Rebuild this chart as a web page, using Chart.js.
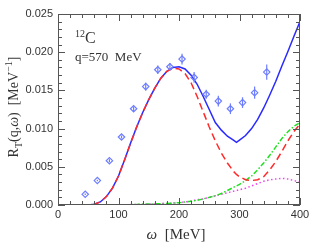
<!DOCTYPE html>
<html>
<head>
<meta charset="utf-8">
<script src="https://cdn.jsdelivr.net/npm/chart.js@4/dist/chart.umd.min.js"></script>
<style>
  html, body { margin: 0; padding: 0; background: #fff; }
  #wrap { width: 315px; height: 248px; }
</style>
</head>
<body>
<div id="wrap"><canvas id="rtChart" width="315" height="248"></canvas></div>
<script>
// Energy grid for the model curves (MeV)
const OMEGA = [40, 50, 60, 70, 80, 90, 100, 110, 120, 130, 140, 150, 160, 170, 180, 190, 200,
  210, 220, 230, 240, 250, 260, 270, 280, 290, 295, 300, 310, 320, 330, 340, 350, 360, 370, 380, 390, 400];

// Full result (blue solid)
const totalCurve = [0, 0, 0.0001, 0.0004, 0.0011, 0.0022, 0.0038, 0.0059, 0.0081, 0.0102, 0.0121, 0.0138,
  0.0153, 0.0166, 0.0175, 0.0180, 0.0181, 0.0178, 0.0170, 0.0158, 0.0142, 0.0125, 0.0108, 0.0098,
  0.0090, 0.0085, 0.0082, 0.0085, 0.0091, 0.0100, 0.0112, 0.0127, 0.0144, 0.0162, 0.0182, 0.0201, 0.0221, 0.0240];

// Red dashed
const qeCurve = [0, 0, 0.0001, 0.0004, 0.0011, 0.0022, 0.0038, 0.0059, 0.0081, 0.0102, 0.0121, 0.0138,
  0.0153, 0.0166, 0.0175, 0.0179, 0.0178, 0.0172, 0.0160, 0.0142, 0.0122, 0.0102, 0.0084, 0.0068,
  0.0055, 0.0044, 0.0040, 0.0037, 0.0033, 0.0032, 0.0033, 0.0037, 0.0046, 0.0057, 0.0070, 0.0084, 0.0096, 0.0106];

// Green dash-dot
const deltaCurve = [0, 0, 0, 0, 0, 0, 0, 0.00003, 0.00005, 0.00007, 0.0001, 0.00012, 0.00015, 0.00018,
  0.0002, 0.00025, 0.0003, 0.0004, 0.0005, 0.0006, 0.0008, 0.0010, 0.0012, 0.0015, 0.0019, 0.0023,
  0.0025, 0.0027, 0.0032, 0.0038, 0.0046, 0.0055, 0.0065, 0.0076, 0.0087, 0.0096, 0.0103, 0.0108];

// Magenta dotted
const mecCurve = [0, 0, 0, 0, 0, 0, 0, 0.00003, 0.00005, 0.00007, 0.0001, 0.00012, 0.00015, 0.00018,
  0.0002, 0.00025, 0.0003, 0.0004, 0.0005, 0.0007, 0.0008, 0.0010, 0.0012, 0.0014, 0.0016, 0.0018,
  0.0019, 0.0020, 0.0022, 0.0025, 0.0028, 0.0031, 0.0033, 0.0034, 0.0035, 0.0034, 0.0032, 0.0030];

// Experimental points
const dataOmega = [45, 65, 85, 105, 125, 145, 165, 185, 205, 225, 245, 265, 285, 305, 325, 345];
const dataR = [0.0014, 0.0032, 0.0058, 0.0089, 0.0126, 0.0155, 0.0177, 0.0181, 0.0191, 0.0167,
  0.0145, 0.0136, 0.0126, 0.0134, 0.0147, 0.0174];
const dataErr = [0.0001, 0.0001, 0.0002, 0.0002, 0.0003, 0.0005, 0.00055, 0.0005, 0.0007, 0.0007,
  0.0006, 0.0007, 0.0007, 0.0007, 0.0008, 0.001];

const xTicks = [0, 100, 200, 300, 400];
const yTicks = [0, 0.005, 0.010, 0.015, 0.020, 0.025];

const SERIF = "'Liberation Serif', 'Times New Roman', serif";
const SANS = "'Liberation Sans', Arial, sans-serif";
const FRAME = "#555";

function toXY(xs, ys) {
  return xs.map((x, i) => ({ x: x, y: ys[i] }));
}

// Error bars for the data points
const errorBars = {
  id: "errorBars",
  afterDatasetsDraw(chart) {
    const meta = chart.getDatasetMeta(0);
    const ys = chart.scales.y;
    const ctx = chart.ctx;
    ctx.save();
    ctx.strokeStyle = "#6d7dff";
    ctx.lineWidth = 1.2;
    meta.data.forEach((pt, i) => {
      const top = ys.getPixelForValue(dataR[i] + dataErr[i]);
      const bot = ys.getPixelForValue(dataR[i] - dataErr[i]);
      ctx.beginPath();
      ctx.moveTo(pt.x, top);
      ctx.lineTo(pt.x, bot);
      ctx.stroke();
    });
    ctx.restore();
  },
};

// Frame with inward ticks on all four sides, plus tick labels
const frameTicks = {
  id: "frameTicks",
  afterDraw(chart) {
    const { ctx, chartArea: a } = chart;
    const xs = chart.scales.x;
    const ys = chart.scales.y;
    ctx.save();
    ctx.strokeStyle = FRAME;
    ctx.lineWidth = 1;
    ctx.strokeRect(a.left + 0.5, a.top + 0.5, a.right - a.left - 1, a.bottom - a.top - 1);
    ctx.beginPath();
    for (let v = 0; v <= 400; v += 20) {
      const px = Math.round(xs.getPixelForValue(v)) + 0.5;
      const len = v % 100 === 0 ? 7 : 4;
      ctx.moveTo(px, a.bottom);
      ctx.lineTo(px, a.bottom - len);
      ctx.moveTo(px, a.top);
      ctx.lineTo(px, a.top + len);
    }
    for (let k = 0; k <= 25; k++) {
      const py = Math.round(ys.getPixelForValue(k * 0.001)) + 0.5;
      const len = k % 5 === 0 ? 7 : 4;
      ctx.moveTo(a.left, py);
      ctx.lineTo(a.left + len, py);
      ctx.moveTo(a.right, py);
      ctx.lineTo(a.right - len, py);
    }
    ctx.stroke();

    ctx.fillStyle = "#333";
    ctx.font = "11px " + SANS;
    ctx.textBaseline = "middle";
    ctx.textAlign = "right";
    yTicks.forEach((v) => {
      ctx.fillText(v.toFixed(3), a.left - 5, ys.getPixelForValue(v));
    });
    ctx.textAlign = "center";
    xTicks.forEach((v) => {
      ctx.fillText(String(v), xs.getPixelForValue(v), a.bottom + 10);
    });
    ctx.restore();
  },
};

// Draw a run of text pieces, some shifted as sub/superscripts
function drawRich(ctx, parts, x, y, align) {
  let total = 0;
  parts.forEach((p) => {
    ctx.font = p.font;
    total += ctx.measureText(p.t).width;
  });
  let cx = align === "center" ? x - total / 2 : x;
  parts.forEach((p) => {
    ctx.font = p.font;
    ctx.fillText(p.t, cx, y + (p.dy || 0));
    cx += ctx.measureText(p.t).width;
  });
}

const labels = {
  id: "labels",
  afterDraw(chart) {
    const ctx = chart.ctx;
    ctx.save();
    ctx.fillStyle = "#333";
    ctx.textBaseline = "alphabetic";
    ctx.textAlign = "left";

    // 12C and q
    drawRich(ctx, [
      { t: "12", font: "10px " + SERIF, dy: -6 },
      { t: "C", font: "16px " + SERIF },
    ], 75, 43, "left");
    ctx.font = "13px " + SERIF;
    ctx.fillText("q=570  MeV", 75, 61);

    // x title
    drawRich(ctx, [
      { t: "ω", font: "italic 15px " + SERIF },
      { t: "  [MeV]", font: "15px " + SERIF },
    ], 176, 239, "center");

    // y title
    ctx.translate(18, 107);
    ctx.rotate(-Math.PI / 2);
    drawRich(ctx, [
      { t: "R", font: "14px " + SERIF },
      { t: "T", font: "10px " + SERIF, dy: 4 },
      { t: "(q,", font: "14px " + SERIF },
      { t: "ω", font: "italic 14px " + SERIF },
      { t: ")  [MeV", font: "14px " + SERIF },
      { t: "−1", font: "10px " + SERIF, dy: -6 },
      { t: "]", font: "14px " + SERIF },
    ], 0, 0, "center");
    ctx.restore();
  },
};

const ctx = document.getElementById("rtChart").getContext("2d");
new Chart(ctx, {
  type: "scatter",
  data: {
    datasets: [
      {
        label: "data",
        data: toXY(dataOmega, dataR),
        showLine: false,
        pointStyle: "rectRot",
        pointRadius: 3.2,
        borderWidth: 1.2,
        borderColor: "#6d7dff",
        backgroundColor: "rgba(0,0,0,0)",
        order: 0,
      },
      {
        label: "qe",
        data: toXY(OMEGA, qeCurve),
        showLine: true,
        pointRadius: 0,
        borderColor: "#ff2a2a",
        borderWidth: 1.5,
        borderDash: [7, 4],
        order: 1,
      },
      {
        label: "total",
        data: toXY(OMEGA, totalCurve),
        showLine: true,
        pointRadius: 0,
        borderColor: "#2a2aff",
        borderWidth: 1.5,
        order: 2,
      },
      {
        label: "delta",
        data: toXY(OMEGA, deltaCurve),
        showLine: true,
        pointRadius: 0,
        borderColor: "#22e022",
        borderWidth: 1.5,
        borderDash: [5, 2, 1.5, 2],
        order: 3,
      },
      {
        label: "mec",
        data: toXY(OMEGA, mecCurve),
        showLine: true,
        pointRadius: 0,
        borderColor: "#ee44ee",
        borderWidth: 1.5,
        borderDash: [1.5, 2.5],
        order: 4,
      },
    ],
  },
  options: {
    responsive: false,
    animation: false,
    layout: { padding: { left: 0, top: 14, right: 15, bottom: 0 } },
    plugins: {
      legend: { display: false },
      tooltip: { enabled: false },
    },
    scales: {
      x: {
        type: "linear",
        min: 0,
        max: 400,
        grid: { display: false, drawTicks: false },
        border: { display: false },
        afterFit(scale) { scale.height = 43; },
        afterBuildTicks(scale) { scale.ticks = xTicks.map((v) => ({ value: v })); },
        ticks: { display: false },
      },
      y: {
        type: "linear",
        min: 0,
        max: 0.025,
        grid: { display: false, drawTicks: false },
        border: { display: false },
        afterFit(scale) { scale.width = 58; },
        afterBuildTicks(scale) { scale.ticks = yTicks.map((v) => ({ value: v })); },
        ticks: { display: false },
      },
    },
  },
  plugins: [errorBars, frameTicks, labels],
});
</script>
</body>
</html>
